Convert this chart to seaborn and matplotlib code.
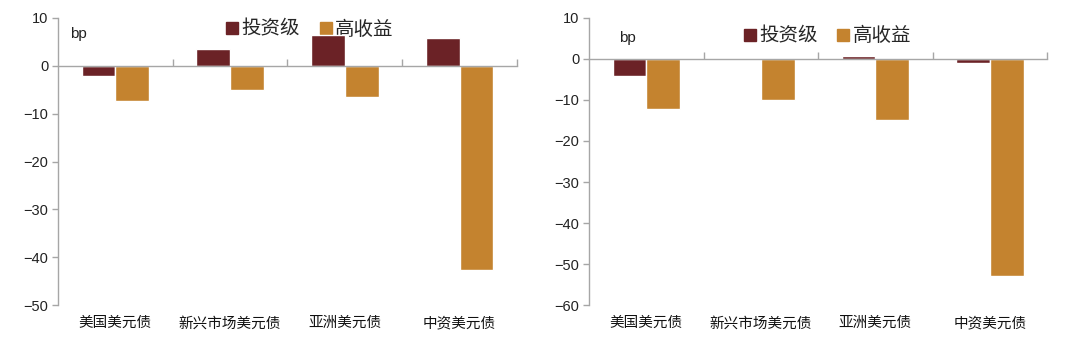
import matplotlib
matplotlib.use("Agg")
import matplotlib.pyplot as plt
import seaborn as sns
import pandas as pd
from matplotlib.lines import Line2D

sns.set_theme(style="white")
plt.rcParams['font.family'] = ['Liberation Sans', 'Noto Sans CJK SC', 'DejaVu Sans']
plt.rcParams['axes.unicode_minus'] = True

categories = ["美国美元债", "新兴市场美元债", "亚洲美元债", "中资美元债"]
series_names = ["投资级", "高收益"]
left_ig = [-2.2, 3.5, 6.5, 5.9]
left_hy = [-7.3, -5.1, -6.6, -42.7]
right_ig = [-4.1, 0.0, 0.8, -1.0]
right_hy = [-12.1, -10.0, -15.0, -53.0]
left_yticks = [10, 0, -10, -20, -30, -40, -50]
right_yticks = [10, 0, -10, -20, -30, -40, -50, -60]
unit_label = "bp"

colors = ["#6B2226", "#C4832F"]
axis_color = "#A6A6A6"
cjk = ['Noto Sans CJK SC', 'DejaVu Sans']

fig = plt.figure(figsize=(10.8, 3.44), dpi=100)
axL = fig.add_axes([0.0537, 0.113, 0.4250, 0.835])
axR = fig.add_axes([0.5454, 0.113, 0.4241, 0.835])


def draw(ax, ig, hy, yticks, leg_x, leg_y, bp_xy):
    df = pd.DataFrame({
        "cat": categories * 2,
        "series": [series_names[0]] * 4 + [series_names[1]] * 4,
        "val": list(ig) + list(hy),
    })
    sns.barplot(data=df, x="cat", y="val", hue="series", order=categories,
                hue_order=series_names, palette=colors, width=0.59,
                saturation=1, ax=ax, legend=False, zorder=3)
    ax.set_xlim(-0.5, 3.5)
    ax.set_ylim(min(yticks), max(yticks))
    ax.set_yticks(yticks)
    ax.set_yticklabels([f"{v}" if v >= 0 else f"\u2212{abs(v)}" for v in yticks],
                       fontsize=10.5, color="#222222")
    ax.set_xlabel("")
    ax.set_ylabel("")
    for s in ["top", "right"]:
        ax.spines[s].set_visible(False)
    ax.spines["left"].set_color(axis_color)
    ax.spines["left"].set_linewidth(1.0)
    ax.spines["bottom"].set_position(("data", 0))
    ax.spines["bottom"].set_color(axis_color)
    ax.spines["bottom"].set_linewidth(1.0)
    ax.spines["bottom"].set_zorder(4)
    ax.tick_params(axis="y", which="major", direction="out", length=4,
                   color=axis_color, width=1.0, pad=3, left=True)
    ax.set_xticks([0.5, 1.5, 2.5, 3.5])
    ax.set_xticklabels([])
    ax.tick_params(axis="x", which="major", direction="in", length=5,
                   color=axis_color, width=1.0, bottom=True)
    sec = ax.secondary_xaxis(0)
    sec.set_xticks(range(len(categories)))
    sec.set_xticklabels(categories, fontsize=10.5, family=cjk, color="#111111")
    sec.tick_params(length=0, pad=8)
    sec.spines["bottom"].set_visible(False)
    handles = [Line2D([], [], marker="s", linestyle="", markersize=9,
                      markerfacecolor=c, markeredgecolor=c) for c in colors]
    leg = ax.legend(handles, series_names, loc="center",
                    bbox_to_anchor=(leg_x, leg_y), ncol=2, frameon=False,
                    prop={"family": cjk, "size": 14}, handletextpad=0.1,
                    columnspacing=0.9, handlelength=0.8, borderaxespad=0)
    leg.set_zorder(2)
    ax.text(bp_xy[0], bp_xy[1], unit_label, transform=ax.transAxes,
            fontsize=11, color="#222222", ha="left", va="center")


draw(axL, left_ig, left_hy, left_yticks, 0.547, 0.96, (0.027, 0.944))
draw(axR, right_ig, right_hy, right_yticks, 0.519, 0.937, (0.065, 0.93))

fig.savefig("out.png", dpi=100, facecolor="white")
